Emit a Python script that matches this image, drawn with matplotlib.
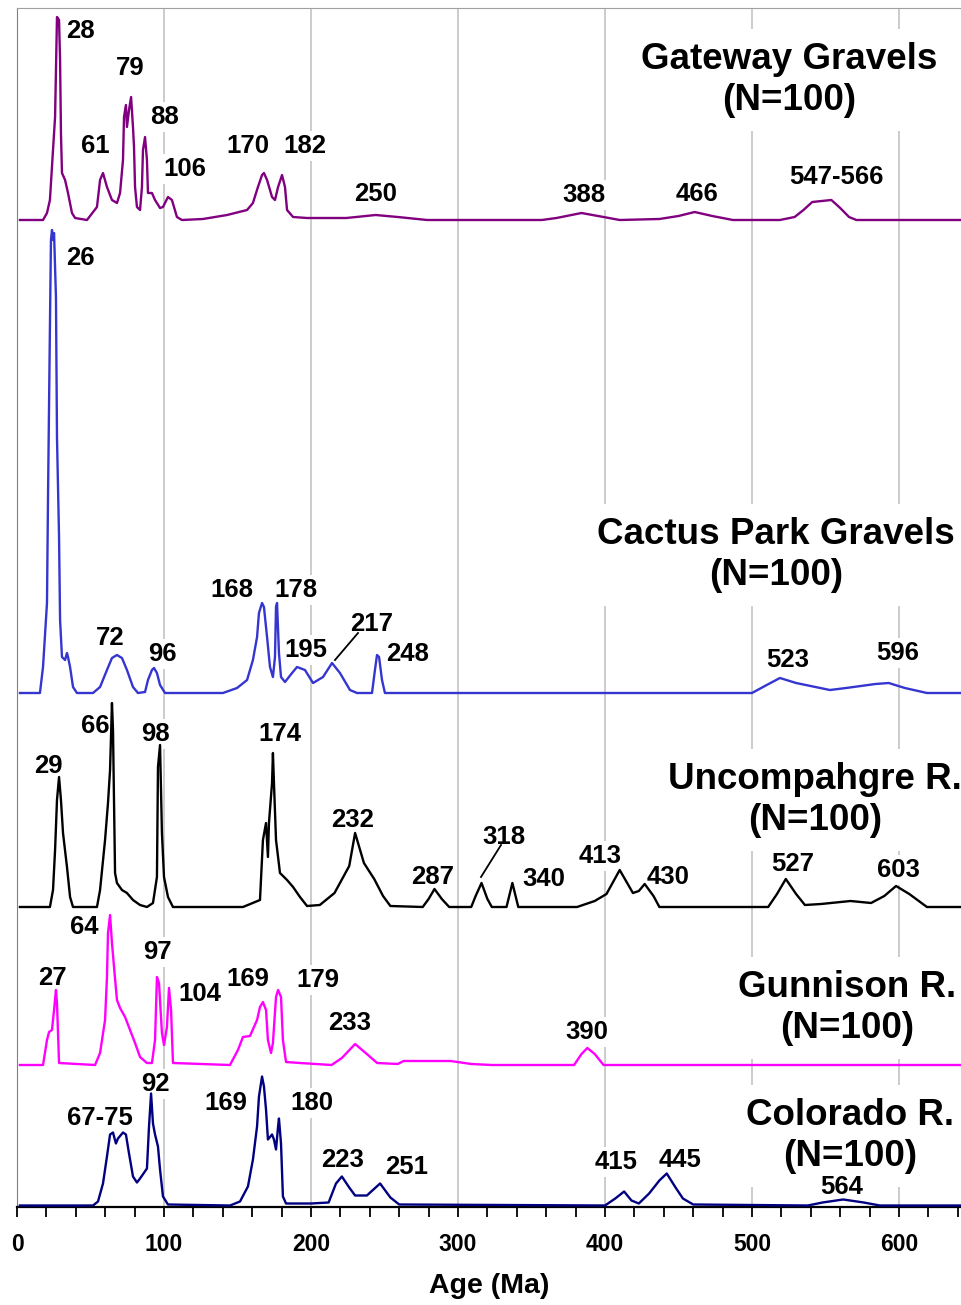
"""Stacked detrital zircon age probability plots for five samples."""

import matplotlib
matplotlib.use("Agg")
import matplotlib.pyplot as plt
from matplotlib.ticker import MultipleLocator

plt.rcParams["font.family"] = ["Liberation Sans", "DejaVu Sans"]
plt.rcParams["font.weight"] = "bold"

# --- data: age (Ma) and relative probability for each sample ---
gateway_age = [2.0, 17.7, 20.4, 22.4, 24.5, 25.9, 27.2, 28.6, 29.3, 29.9, 30.6, 32.7, 34.7, 37.4,
               39.5, 47.6, 54.4, 56.5, 58.5, 61.2, 64.6, 68.0, 70.1, 72.1, 72.8, 74.1, 74.8,
               76.2, 77.6, 78.9, 79.6, 80.3, 81.6, 83.7, 85.0, 85.7, 87.1, 88.4, 89.1, 91.8,
               93.9, 97.3, 99.3, 102.7, 105.4, 108.8, 112.2, 126.5, 142.9, 156.5, 160.5, 163.9,
               166.7, 168.0, 170.1, 173.5, 175.5, 177.6, 180.3, 182.3, 183.7, 187.8, 197.3,
               224, 244, 259, 279, 357, 367, 384, 399, 410, 437, 450, 461, 473, 487, 519, 529,
               535, 541, 554, 560, 566, 571, 642]
gateway_prob = [0, 0, 7, 20, 70, 103, 203, 200, 160, 87, 47, 40, 27, 7,
                2, 0, 13, 40, 47, 33, 20, 17, 27, 60, 103, 115, 93,
                110, 123, 93, 73, 33, 13, 10, 33, 70, 83, 60, 27, 27,
                20, 12, 13, 23, 20, 3, 0, 1, 5, 10, 17, 33,
                45, 47, 40, 23, 20, 33, 45, 33, 10, 3, 2,
                2, 5, 3, 0, 0, 2, 7, 3, 0, 1, 4, 8, 4, 0, 0, 3,
                10, 18, 20, 12, 3, 0, 0]

cactus_age = [2.0, 15.6, 17.7, 20.4, 21.1, 22.4, 23.1, 23.8, 24.5, 25.2, 26.5, 27.2, 28.6, 29.3,
              30.6, 32.7, 34.0, 34.7, 36.1, 38.1, 40.8, 51.7, 56.5, 61.2, 64.6, 68.0, 71.4,
              74.8, 78.9, 82.3, 87.1, 89.1, 91.8, 93.2, 95.2, 97.3, 100.7, 140.1, 149.7, 156.5,
              160.5, 163.3, 164.6, 166.7, 168.0, 170.1, 172.1, 174.1, 175.5, 176.2, 176.9,
              178.2, 179.6, 182.3, 187.1, 190.5, 195.9, 201.4, 208.2, 214.3, 219.7, 226.5,
              231.3, 241.5, 243.5, 244.9, 246.3, 248.3, 250.3,
              500, 510, 519, 530, 553, 564, 584, 593, 604, 619, 642]
cactus_prob = [0, 0, 26, 90, 196, 366, 453, 463, 453, 460, 396, 256, 156, 73,
               36, 33, 40, 36, 26, 6, 0, 0, 6, 23, 35, 38, 35,
               23, 6, 0, 1, 13, 23, 25, 20, 8, 0, 0, 5, 13,
               33, 56, 80, 90, 86, 56, 26, 16, 36, 86, 90,
               40, 16, 11, 20, 26, 23, 10, 16, 30, 20, 3,
               0, 0, 23, 38, 36, 13, 0,
               0, 8, 15, 10, 3, 5, 9, 10, 5, 0, 0]

uncomp_age = [2.0, 22.4, 24.5, 25.9, 27.2, 28.6, 29.9, 31.3, 34.0, 36.1, 38.1, 54.4, 56.5, 59.9,
              61.9, 63.3, 64.6, 65.3, 66.7, 68.0, 71.4, 74.8, 78.9, 83.7, 88.4, 92.5, 95.2,
              95.9, 97.3, 98.6, 100.0, 102.7, 106.1, 153.7, 165.3, 167.3, 169.4, 170.7, 171.4,
              173.5, 174.1, 174.8, 176.2, 178.9, 183.7, 187.8, 192.5, 197.3, 206, 216, 226,
              230, 236, 243, 249, 254, 276, 280, 284, 289, 294, 309, 312, 316, 320, 323, 333,
              337, 341, 381, 393, 401, 410, 419, 423, 427, 433, 437, 511, 517, 523, 530, 536,
              547, 567, 581, 590, 598, 607, 619, 642]
uncomp_prob = [0, 0, 17, 57, 107, 130, 107, 74, 40, 10, 0, 0, 17, 67,
               104, 137, 204, 177, 34, 24, 17, 14, 7, 2, 0, 4, 30,
               140, 162, 74, 30, 10, 0, 0, 7, 67, 84, 50, 84,
               124, 154, 124, 67, 34, 27, 20, 10, 1, 2, 14, 41,
               74, 44, 28, 11, 1, 0, 8, 18, 8, 0, 0, 11, 24, 8, 0, 0,
               24, 0, 0, 6, 13, 37, 14, 16, 23, 11, 0, 0, 13, 28, 13, 2,
               3, 6, 4, 11, 21, 13, 0, 0]

gunnison_age = [2.0, 17.7, 20.4, 21.8, 23.8, 25.2, 26.5, 27.2, 28.6, 53.1, 56.5, 59.9, 61.2, 61.9,
                63.3, 64.6, 66.0, 68.0, 70.1, 73.5, 76.9, 80.3, 83.7, 88.4, 91.8, 93.9, 95.2,
                96.6, 98.6, 100.0, 102.0, 103.4, 104.8, 106.1, 144.9, 150.3, 153.7, 158.5,
                163.3, 165.3, 167.3, 169.4, 170.7, 172.8, 174.1, 176.2, 177.6, 179.6, 180.9,
                183.0, 192.5, 214, 221, 230, 238, 245, 259, 263, 295, 309, 323, 379, 384, 388,
                393, 399, 642]
gunnison_prob = [0, 0, 25, 33, 35, 55, 75, 62, 2, 0, 12, 45, 88, 132,
                 150, 122, 98, 65, 57, 48, 35, 22, 8, 2, 2, 25, 88,
                 82, 32, 20, 38, 77, 55, 2, 0, 15, 28, 29,
                 45, 58, 63, 55, 25, 12, 22, 68, 75, 68, 25,
                 3, 2, 0, 7, 21, 11, 2, 1, 4, 4, 1, 0, 0, 11, 17,
                 11, 0, 0]

colorado_age = [2.0, 51.7, 55.1, 58.5, 61.2, 63.3, 65.3, 67.3, 68.7, 72.1, 74.1, 76.2, 78.9, 81.6,
                83.7, 88.4, 89.8, 91.2, 92.5, 93.9, 95.9, 97.3, 99.3, 102.7, 144.9, 151.7,
                157.1, 160.5, 163.3, 164.6, 166.7, 168.0, 169.4, 170.7, 173.5, 174.8, 176.2,
                177.6, 178.2, 179.6, 180.9, 183.0, 200, 212, 217, 221, 226, 230, 238, 247, 254,
                260, 400, 407, 413, 418, 423, 430, 437, 442, 448, 453, 460, 538, 548, 562, 576,
                587, 642]
colorado_prob = [0, 0, 4, 22, 49, 71, 73, 62, 67, 73, 71, 52, 29, 23,
                 27, 37, 79, 112, 82, 71, 59, 36, 9, 1, 0, 4,
                 19, 46, 79, 109, 129, 119, 96, 66, 71, 66, 56,
                 79, 87, 62, 9, 2, 2, 3, 22, 29, 18, 10, 10, 22, 8,
                 1, 0, 7, 14, 5, 2, 12, 25, 32, 18, 7, 1, 0, 3, 6, 3,
                 0, 0]

sample_names = ["Gateway Gravels\n(N=100)", "Cactus Park Gravels\n(N=100)",
                "Uncompahgre R.\n(N=100)", "Gunnison R.\n(N=100)", "Colorado R.\n(N=100)"]

gateway_peaks = ["28", "79", "61", "88", "106", "170", "182", "250", "388", "466", "547-566"]
cactus_peaks = ["26", "72", "96", "168", "178", "195", "217", "248", "523", "596"]
uncomp_peaks = ["29", "66", "98", "174", "232", "287", "318", "340", "413", "430", "527", "603"]
gunnison_peaks = ["64", "97", "27", "104", "169", "179", "233", "390"]
colorado_peaks = ["92", "67-75", "169", "180", "223", "251", "415", "445", "564"]

# --- layout (pixel-based frame: x in Ma, y in px above the axis line) ---
PX_PER_MA = 1.47
BOTTOM_PX = 1207


def px(x, y):
    """Image pixel position -> data coords."""
    return (x - 17) / PX_PER_MA, BOTTOM_PX - y


curves = [
    (gateway_age, gateway_prob, 987, "#800080"),
    (cactus_age, cactus_prob, 514, "#3535D0"),
    (uncomp_age, uncomp_prob, 300, "#000000"),
    (gunnison_age, gunnison_prob, 142, "#FF00FF"),
    (colorado_age, colorado_prob, 1.5, "#000080"),
]

title_pos = [(789, 80), (776, 555), (815, 800), (847, 1008), (850, 1136)]

peak_pos = [
    [(80, 31), (130, 68), (95, 146), (164, 117), (185, 169), (248, 146), (305, 146),
     (376, 194), (584, 195), (697, 194), (836, 177)],
    [(80, 258), (110, 638), (162, 654), (232, 590), (296, 590), (306, 650), (372, 624),
     (408, 654), (788, 660), (898, 653)],
    [(48, 766), (95, 726), (155, 734), (280, 734), (353, 820), (433, 877), (504, 837),
     (544, 879), (600, 856), (668, 877), (793, 864), (898, 870)],
    [(84, 927), (157, 952), (52, 978), (200, 994), (248, 979), (318, 980), (350, 1023),
     (587, 1032)],
    [(155, 1084), (100, 1118), (226, 1103), (312, 1103), (343, 1160), (407, 1167),
     (616, 1162), (680, 1160), (842, 1187)],
]
peak_texts = [gateway_peaks, cactus_peaks, uncomp_peaks, gunnison_peaks, colorado_peaks]

fig = plt.figure(figsize=(9.61, 13.05), dpi=100)
ax = fig.add_axes([17 / 961, (1305 - 1207) / 1305, (961 - 17) / 961, (1207 - 8) / 1305])

for ages, probs, base, color in curves:
    ax.plot(ages, [p + base for p in probs], color=color, lw=1.7, zorder=4,
            solid_joinstyle="round")

for name, (x, y) in zip(sample_names, title_pos):
    ax.text(*px(x, y), name, ha="center", va="center", fontsize=26.5, fontweight="bold",
            zorder=3, bbox=dict(boxstyle="square,pad=0.35", facecolor="white", edgecolor="none"))

for texts, positions in zip(peak_texts, peak_pos):
    for t, (x, y) in zip(texts, positions):
        ax.text(*px(x, y), t, ha="center", va="center", fontsize=18.5, fontweight="bold",
                zorder=3, bbox=dict(boxstyle="square,pad=0.1", facecolor="white",
                                    edgecolor="none"))

# leader lines for the crowded labels
for (x0, y0), (x1, y1) in [((358, 633), (335, 660)), ((501, 845), (481, 877))]:
    p0, p1 = px(x0, y0), px(x1, y1)
    ax.plot([p0[0], p1[0]], [p0[1], p1[1]], color="black", lw=1.3, zorder=4)

ax.set_xlim(0, (961 - 17) / PX_PER_MA)
ax.set_ylim(0, BOTTOM_PX - 8)
ax.set_yticks([])

ax.xaxis.set_major_locator(MultipleLocator(100))
ax.xaxis.set_minor_locator(MultipleLocator(20))
ax.tick_params(axis="x", which="both", direction="out", length=7, width=1.3, color="black")
ax.tick_params(axis="x", which="major", labelsize=16.5, pad=12)
for lbl in ax.get_xticklabels():
    lbl.set_fontweight("bold")

ax.grid(axis="x", which="major", color="#C8C8C8", lw=1.3, zorder=1)
ax.set_axisbelow(True)

ax.spines["right"].set_visible(False)
ax.spines["top"].set_color("#A0A0A0")
ax.spines["left"].set_color("#808080")
ax.spines["bottom"].set_color("black")
ax.spines["bottom"].set_linewidth(1.6)

ax.set_xlabel("Age (Ma)", fontsize=20.5, fontweight="bold", labelpad=12)

fig.savefig("out.png", dpi=100)
